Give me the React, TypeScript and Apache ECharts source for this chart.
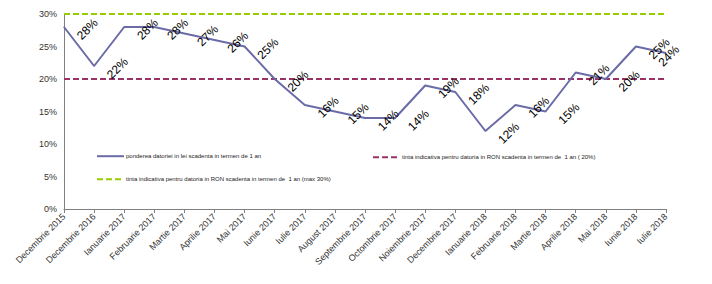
import React, { useEffect, useRef } from "react";
import * as echarts from "echarts";

const categories = [
  "Decembrie 2015", "Decembrie 2016", "Ianuarie 2017", "Februarie 2017", "Martie 2017",
  "Aprilie 2017", "Mai 2017", "Iunie 2017", "Iulie 2017", "August 2017",
  "Septembrie 2017", "Octombrie 2017", "Noiembrie 2017", "Decembrie 2017", "Ianuarie 2018",
  "Februarie 2018", "Martie 2018", "Aprilie 2018", "Mai 2018", "Iunie 2018", "Iulie 2018",
];
const pondere = [28, 22, 28, 28, 27, 26, 25, 20, 16, 15, 14, 14, 19, 18, 12, 16, 15, 21, 20, 25, 24];
const tinta20 = categories.map(() => 20);
const tinta30 = categories.map(() => 30);
const seriesNames = [
  "ponderea datoriei in lei scadenta in termen de 1 an",
  "tinta indicativa pentru datoria in RON scadenta in termen de  1 an ( 20%)",
  "tinta indicativa pentru datoria in RON scadenta in termen de  1 an (max 30%)",
];

export default function App() {
  const ref = useRef<HTMLDivElement>(null);
  useEffect(() => {
    if (!ref.current) return;
    const chart = echarts.init(ref.current, null, { renderer: "svg" });
    const font = "Liberation Sans, Arial, sans-serif";
    const legendBase = {
      orient: "horizontal",
      padding: 0,
      itemWidth: 27,
      itemHeight: 8,
      itemGap: 2,
      itemStyle: { opacity: 0 },
      textStyle: { fontSize: 6, color: "#222", fontFamily: font, padding: [0, 0, 0, -3] },
    };
    chart.setOption({
      animation: false,
      textStyle: { fontFamily: font },
      grid: { left: 64, right: 46, top: 14, bottom: 75, containLabel: false },
      legend: [
        { ...legendBase, data: [seriesNames[0]], left: 96, top: 153 },
        { ...legendBase, data: [seriesNames[1]], left: 372, top: 154 },
        { ...legendBase, data: [seriesNames[2]], left: 96, top: 176 },
      ],
      xAxis: {
        type: "category",
        data: categories,
        boundaryGap: false,
        axisLine: { lineStyle: { color: "#808080", width: 1 } },
        axisTick: { show: true, alignWithLabel: true, length: 4, lineStyle: { color: "#808080" } },
        axisLabel: { rotate: 45, fontSize: 9, color: "#333", margin: 6, interval: 0, fontFamily: font },
      },
      yAxis: {
        type: "value",
        min: 0,
        max: 30,
        interval: 5,
        axisLine: { show: true, lineStyle: { color: "#808080", width: 1 } },
        axisTick: { show: false },
        splitLine: { show: false },
        axisLabel: { formatter: "{value}%", fontSize: 9, color: "#333", margin: 7, fontFamily: font },
      },
      series: [
        {
          name: seriesNames[0],
          type: "line",
          data: pondere.map((v, i) =>
            i === pondere.length - 1
              ? { value: v, label: { offset: [0, 4] } }
              : v
          ),
          symbol: "circle",
          symbolSize: 1,
          showSymbol: true,
          itemStyle: { color: "#6B6BA8" },
          lineStyle: { color: "#6B6BA8", width: 2 },
          label: {
            show: true,
            position: "inside",
            align: "center",
            verticalAlign: "middle",
            rotate: 45,
            offset: [15, 18],
            fontSize: 12,
            color: "#000",
            fontFamily: font,
            formatter: (p: any) => `${Math.round(p.value)}%`,
          },
          z: 3,
        },
        {
          name: seriesNames[1],
          type: "line",
          data: tinta20,
          symbol: "none",
          itemStyle: { color: "#993366" },
          lineStyle: { color: "#993366", width: 2, type: [6, 3] },
          z: 2,
        },
        {
          name: seriesNames[2],
          type: "line",
          data: tinta30,
          symbol: "none",
          itemStyle: { color: "#99CC00" },
          lineStyle: { color: "#99CC00", width: 2, type: [6, 3] },
          z: 2,
        },
      ],
    });
    return () => chart.dispose();
  }, []);
  return <div ref={ref} style={{ width: 712, height: 284, position: "absolute", left: 0, top: 0 }} />;
}
